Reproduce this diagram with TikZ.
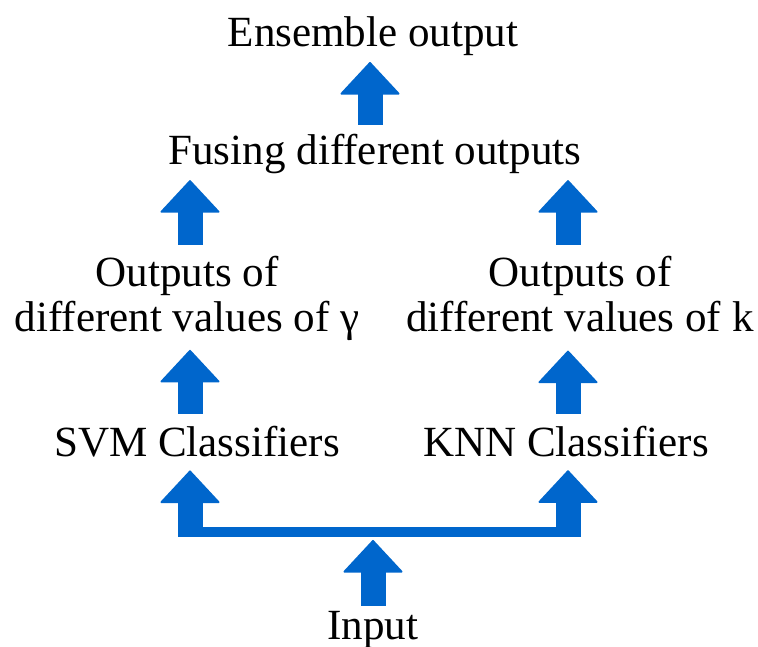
\documentclass[tikz,border=0pt]{standalone}
\usepackage{fontspec}
\setmainfont{Liberation Serif}
\usepackage{xcolor}
\usepackage{tikz}
\usetikzlibrary{
    arrows.meta,
    calc,
    positioning
}
\definecolor{flowblue}{RGB}{0,102,204}

\begin{document}
\begin{tikzpicture}[
    every node/.style={font=\fontsize{24.5pt}{26pt}\selectfont, inner sep=0pt},
    label/.style={anchor=base},
    uparrow/.style={flowblue, line width=0.5cm,
        -{Triangle[width=1.22cm, length=0.66cm, line width=1pt, round]}},
    bus/.style={flowblue, line width=0.2cm}
]
    \useasboundingbox (0,0) rectangle (15.16,12.94);

    % Column positions of the arrows
    \coordinate (colL) at (3.80,0);
    \coordinate (colM) at (7.40,0);
    \coordinate (colR) at (11.36,0);

    % Text levels
    \node[label] (ens)  at (7.46,12.00) {Ensemble output};
    \node[label] (fuse) at (7.50,9.64)  {Fusing different outputs};
    \node[anchor=north, align=center] (outg) at (3.74,7.83)
        {Outputs of\\different values of γ};
    \node[anchor=north, align=center] (outk) at (11.60,7.83)
        {Outputs of\\different values of k};
    \node[label] (svm)  at (3.94,3.80)  {SVM Classifiers};
    \node[label] (knn)  at (11.32,3.80) {KNN Classifiers};
    \node[label] (in)   at (7.46,0.14)  {Input};

    % Upward arrows between levels
    \draw[uparrow] ($(fuse.north -| colM)+(0,0.19)$) -- ($(ens.south -| colM)-(0,0.11)$);
    \draw[uparrow] ($(outg.north -| colL)+(0,0.21)$) -- ($(fuse.south -| colL)-(0,0.11)$);
    \draw[uparrow] ($(outk.north -| colR)+(0,0.21)$) -- ($(fuse.south -| colR)-(0,0.11)$);
    \draw[uparrow] ($(svm.north -| colL)+(0,0.25)$) -- ($(outg.south -| colL)-(0,0.17)$);
    \draw[uparrow] ($(knn.north -| colR)+(0,0.25)$) -- ($(outk.south -| colR)-(0,0.36)$);

    % Split of the input to both classifiers
    \coordinate (jL) at (3.80,2.20);
    \coordinate (jR) at (11.36,2.20);
    \draw[bus] ($(jL)+(0,0.1)$) -- ($(jR)+(0,0.1)$);
    \draw[uparrow] (jL) -- ($(svm.south -| jL)-(0,0.25)$);
    \draw[uparrow] (jR) -- ($(knn.south -| jR)-(0,0.25)$);
    \draw[uparrow] ($(in.north)+(0,0.11)$) -- ($(in.north |- jL)-(0,0.06)$);

\end{tikzpicture}
\end{document}
